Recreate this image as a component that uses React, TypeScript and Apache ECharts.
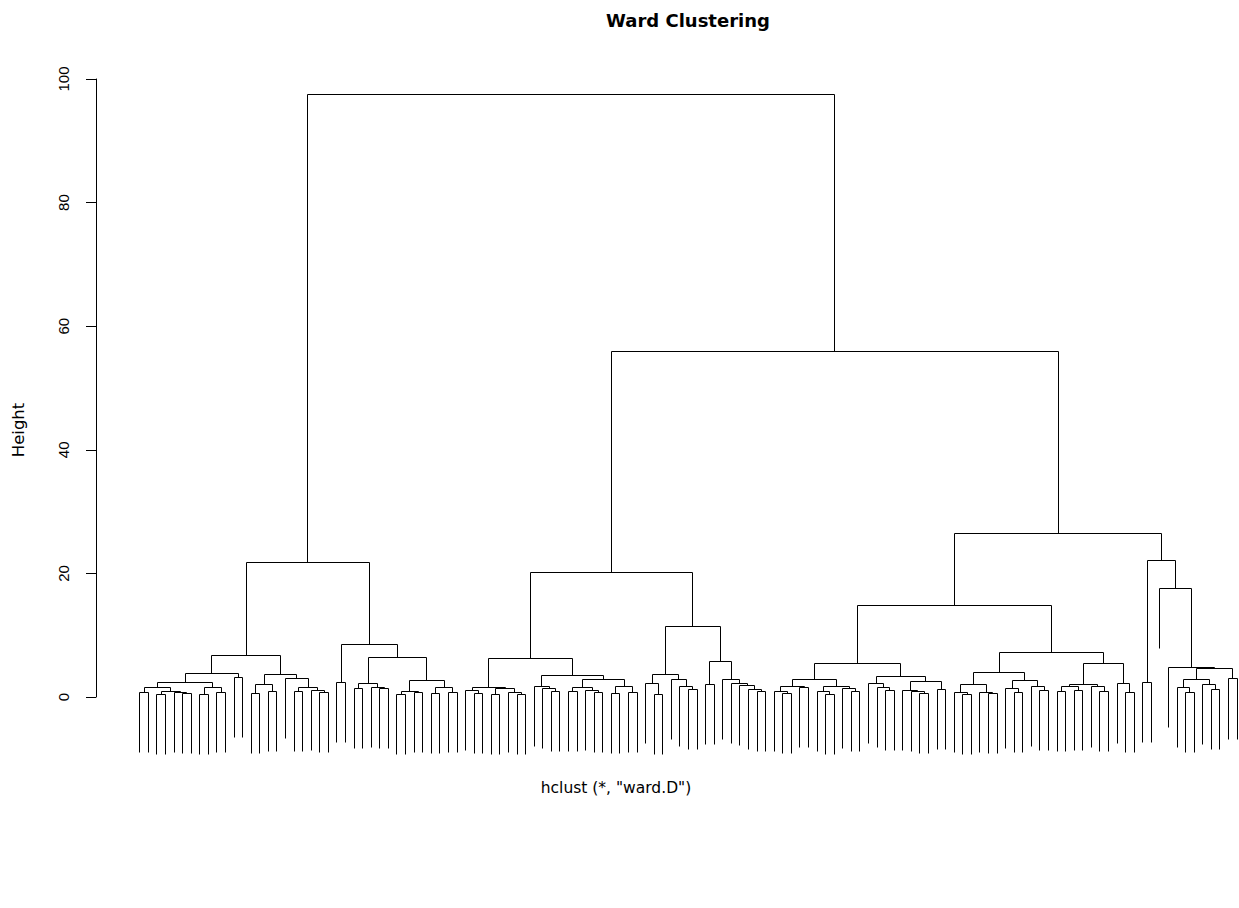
import { useEffect, useRef } from "react";
import * as echarts from "echarts";

// A dendrogram node is either a leaf (0) or [merge height, left subtree, right subtree].
type Tree = 0 | [number, Tree, Tree];
const L = 0;

// ---- left branch (38 observations) ----
const leftA: Tree = [3.83,
  [2.48,
    [1.67, [0.86, L, L], [0.97, [0.54, L, L], [0.8, L, [0.6, L, L]]]],
    [1.6, [0.54, L, L], [0.86, L, L]]],
  [3.29, L, L]];

const leftB: Tree = [3.75,
  [2.05, [0.7, L, L], [0.97, L, L]],
  [3.12, L, [1.67, [0.97, L, L], [1.08, L, [0.86, L, L]]]]];

const leftC: Tree = [8.5,
  [2.5, L, L],
  [6.52,
    [2.32, [1.4, L, L], [1.67, L, [1.51, L, L]]],
    [2.75, [0.97, [0.54, L, L], [0.86, L, L]], [1.67, [0.7, L, L], [0.86, L, L]]]]];

// ---- middle branch (36 observations) ----
const midA: Tree = [6.25,
  [1.67,
    [1.08, L, [0.7, L, L]],
    [1.4, [0.48, L, L], [0.75, L, [0.48, L, L]]]],
  [3.56,
    [1.83, L, [1.51, L, [0.97, L, L]]],
    [2.85,
      [1.57, [0.97, L, L], [1.13, L, [0.75, L, L]]],
      [1.78, [0.7, L, L], [0.86, L, L]]]]];

const midB: Tree = [11.5,
  [3.72,
    [2.32, L, [0.43, L, L]],
    [2.9, L, [1.83, L, [1.3, L, L]]]],
  [5.88,
    [2.05, L, L],
    [2.86, L, [2.2, L, [2.0, L, [1.3, L, [1.05, L, L]]]]]]];

// ---- right branch (55 observations) ----
const rightA: Tree = [5.55,
  [2.95,
    [1.8, [0.97, L, [0.7, L, L]], [1.55, L, L]],
    [1.8, [1.0, L, [0.5, L, L]], [1.5, L, [1.0, L, L]]]],
  [3.4,
    [2.2, L, [1.67, L, [1.2, L, L]]],
    [2.6, [1.1, L, [0.9, L, [0.7, L, L]]], [1.3, L, L]]]];

const rightB: Tree = [7.3,
  [4.0,
    [2.1, [0.86, L, [0.5, L, L]], [0.86, L, [0.6, L, L]]],
    [2.75, [1.5, L, [0.75, L, L]], [1.78, L, [1.1, L, L]]]],
  [5.45,
    [2.1, [1.78, [0.9, L, L], [1.2, L, L]], [1.7, L, [0.97, L, L]]],
    [2.2, L, [0.86, L, L]]]];

const rightC: Tree = [22.2,
  [2.48, L, L],
  [17.6, L,
    [4.8, L,
      [4.64,
        [2.9, [1.67, L, [0.86, L, L]], [2.05, L, [1.25, L, L]]],
        [3.0, L, L]]]]];

// ---- top-level merges ----
const leftBranch: Tree = [21.85, [6.85, leftA, leftB], leftC];
const middleBranch: Tree = [20.2, midA, midB];
const rightBranch: Tree = [26.5, [14.9, rightA, rightB], rightC];
const wardTree: Tree = [97.6, leftBranch, [56.0, middleBranch, rightBranch]];

const heightTicks = [0, 20, 40, 60, 80, 100];
const titleText = "Ward Clustering";
const subText = 'hclust (*, "ward.D")';
const yAxisName = "Height";
const hangFraction = 0.1;

// Turns the tree into one "⊓" bracket per merge: [xLeft, yLeftBottom, xRight, yRightBottom, height].
function buildBrackets(tree: Tree) {
  const heights: number[] = [];
  const gather = (t: Tree) => {
    if (t === 0) return;
    heights.push(t[0]);
    gather(t[1]);
    gather(t[2]);
  };
  gather(tree);
  const drop = hangFraction * (Math.max(...heights) - Math.min(...heights));

  const brackets: number[][] = [];
  let leafCount = 0;
  const walk = (t: Tree): { x: number; h: number | null } => {
    if (t === 0) {
      leafCount += 1;
      return { x: leafCount, h: null };
    }
    const [h, a, b] = t;
    const l = walk(a);
    const r = walk(b);
    brackets.push([l.x, l.h === null ? h - drop : l.h, r.x, r.h === null ? h - drop : r.h, h]);
    return { x: (l.x + r.x) / 2, h };
  };
  walk(tree);
  return { brackets, leafCount };
}

export default function App() {
  const ref = useRef<HTMLDivElement>(null);

  useEffect(() => {
    if (!ref.current) return;
    const chart = echarts.init(ref.current, undefined, { renderer: "svg" });
    const { brackets, leafCount } = buildBrackets(wardTree);

    const gridLeft = 96;
    const pxPerLeaf = 8.573;
    const xMin = 1 - (139.3 - gridLeft) / pxPerLeaf;
    const xMax = xMin + (1239 - gridLeft) / pxPerLeaf;
    const snap = (p: number[]) => [Math.round(p[0]) + 0.5, Math.round(p[1]) + 0.5];

    chart.setOption({
      animation: false,
      backgroundColor: "#ffffff",
      grid: { left: gridLeft, right: 0, top: 79, bottom: 211, containLabel: false },
      xAxis: { type: "value", min: xMin, max: xMax, show: false },
      yAxis: {
        type: "value",
        min: heightTicks[0],
        max: heightTicks[heightTicks.length - 1],
        interval: heightTicks[1] - heightTicks[0],
        axisLine: { show: true, onZero: false, lineStyle: { color: "#000", width: 1 } },
        axisTick: { show: true, length: 10, lineStyle: { color: "#000", width: 1 } },
        axisLabel: {
          rotate: 90,
          margin: 25,
          color: "#000",
          fontSize: 15,
          fontFamily: "Liberation Sans",
          showMinLabel: true,
          showMaxLabel: true,
        },
        splitLine: { show: false },
      },
      graphic: [
        {
          type: "text",
          x: 688,
          y: 20,
          silent: true,
          style: {
            text: titleText,
            fill: "#000",
            font: 'bold 18px "DejaVu Sans"',
            textAlign: "center",
            textVerticalAlign: "middle",
            align: "center",
            verticalAlign: "middle",
          },
        },
        {
          type: "text",
          x: 616,
          y: 788,
          silent: true,
          style: {
            text: subText,
            fill: "#000",
            font: '15.5px "DejaVu Sans"',
            textAlign: "center",
            textVerticalAlign: "middle",
            align: "center",
            verticalAlign: "middle",
          },
        },
        {
          type: "text",
          x: 18.5,
          y: 430,
          rotation: Math.PI / 2,
          silent: true,
          style: {
            text: yAxisName,
            fill: "#000",
            font: '16.5px "DejaVu Sans"',
            textAlign: "center",
            textVerticalAlign: "middle",
            align: "center",
            verticalAlign: "middle",
          },
        },
      ],
      series: [
        {
          type: "custom",
          name: `dendrogram-${leafCount}`,
          coordinateSystem: "cartesian2d",
          clip: false,
          silent: true,
          encode: { x: [0, 2], y: [1, 3, 4] },
          data: brackets,
          renderItem: (_params: any, api: any) => {
            const x1 = api.value(0);
            const y1 = api.value(1);
            const x2 = api.value(2);
            const y2 = api.value(3);
            const h = api.value(4);
            const pts = [
              api.coord([x1, y1]),
              api.coord([x1, h]),
              api.coord([x2, h]),
              api.coord([x2, y2]),
            ].map(snap);
            return {
              type: "polyline",
              shape: { points: pts },
              style: { stroke: "#000", fill: "none", lineWidth: 1 },
            };
          },
        },
      ],
    });

    return () => chart.dispose();
  }, []);

  return (
    <div
      ref={ref}
      style={{ position: "fixed", left: 0, top: 0, width: 1239, height: 908, background: "#fff" }}
    />
  );
}
